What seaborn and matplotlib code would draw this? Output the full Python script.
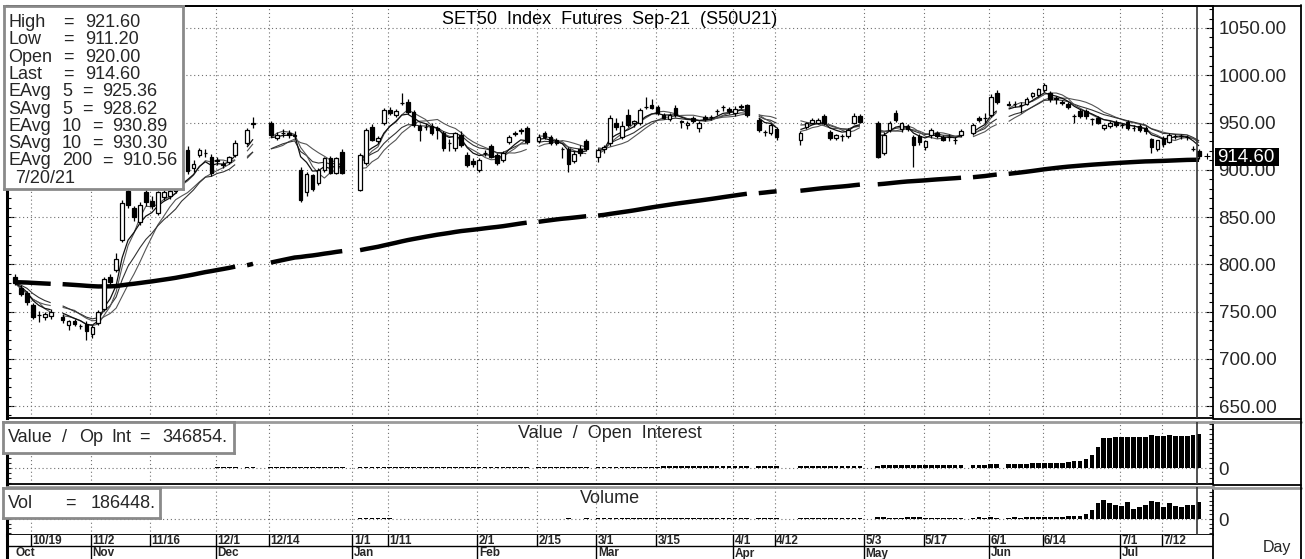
import numpy as np
import pandas as pd
import matplotlib
matplotlib.use("Agg")
import matplotlib.pyplot as plt
import seaborn as sns
from matplotlib.lines import Line2D
from matplotlib.patches import Rectangle
from matplotlib.ticker import MultipleLocator, FixedLocator, FuncFormatter

W, H = 1305, 559

# ---------------------------------------------------------
# Data (one value per trading day)
# ---------------------------------------------------------
first_day = "2020-10-14"
last_day = "2021-07-20"
holidays = ["2020-10-23", "2020-12-07", "2020-12-10", "2020-12-11", "2020-12-31",
            "2021-01-01", "2021-02-12", "2021-02-26", "2021-04-06", "2021-04-13",
            "2021-04-14", "2021-04-15", "2021-05-03", "2021-05-04", "2021-05-26",
            "2021-06-03"]

opens = [786, 775, 770, 757, 746, 744, 745, 744, 736, 740, 735, 737,  # Oct
         726, 738, 753, 786, 794, 826, 878, 860, 845, 876, 867, 854, 871, 872, 878, 888, 921, 902, 916, 918, 914,  # Nov
         909, 906, 908, 916, 928, 948, 950, 934, 939, 939, 936, 900, 876, 894, 886, 900, 912, 897, 919,  # Dec
         879, 907, 945, 930, 949, 963, 958, 971, 972, 961, 946, 945, 946, 944, 939, 928, 923, 937, 916, 909,  # Jan
         900, 918, 925, 916, 910, 929, 939, 942, 944, 930, 939, 935, 932, 922, 922, 909, 922, 930,  # Feb
         914, 922, 928, 949, 935, 958, 949, 949, 966, 968, 966, 958, 954, 965, 952, 947, 955, 944, 956, 956, 962, 966, 964,  # Mar
         960, 967, 968, 953, 940, 939, 943, 932, 945, 950, 950, 957, 940, 934, 936, 936, 950, 957,  # Apr
         950, 918, 942, 960, 943, 946, 935, 936, 924, 937, 939, 935, 935, 932, 937, 939, 955, 955,  # May
         958, 981, 970, 970, 968, 970, 978, 979, 984, 981, 976, 972, 970, 957, 962, 962, 954, 955, 944, 946, 951,  # Jun
         947, 951, 944, 946, 944, 933, 922, 934, 929, 936, 936, 935, 922, 920]  # Jul
highs = [790, 778, 772, 759, 751, 750, 753, 747, 741, 742, 737, 740,
         736, 752, 786, 790, 812, 868, 882, 862, 866, 880, 872, 878, 879, 880, 888, 906, 925, 910, 923, 922, 917,
         914, 909, 915, 931, 944, 956, 952, 940, 943, 942, 941, 903, 898, 896, 902, 914, 915, 914, 922,
         918, 944, 948, 936, 965, 966, 964, 981, 975, 963, 948, 950, 950, 946, 941, 933, 940, 941, 919, 912,
         912, 921, 927, 918, 920, 937, 941, 944, 946, 938, 941, 937, 934, 924, 924, 920, 926, 933,
         923, 926, 958, 955, 952, 964, 953, 965, 977, 975, 968, 960, 960, 968, 953, 952, 957, 952, 958, 958, 964, 968, 966,
         967, 970, 970, 955, 942, 949, 945, 941, 951, 955, 955, 959, 942, 938, 938, 944, 960, 959,
         952, 940, 952, 963, 951, 948, 937, 938, 932, 944, 941, 937, 938, 935, 943, 949, 957, 960,
         980, 984, 973, 973, 972, 977, 982, 987, 992, 983, 978, 974, 972, 959, 964, 964, 955, 957, 948, 952, 953,
         950, 953, 947, 948, 946, 934, 932, 936, 939, 938, 938, 937, 925, 921.6]
lows = [778, 766, 757, 742, 739, 741, 742, 738, 730, 735, 732, 720,
        722, 736, 751, 778, 792, 824, 860, 846, 842, 862, 858, 852, 868, 869, 875, 886, 896, 898, 913, 914, 893,
        905, 902, 906, 914, 926, 944, 935, 931, 935, 934, 933, 866, 872, 878, 884, 898, 895, 895, 895,
        877, 905, 930, 928, 947, 958, 956, 968, 959, 945, 930, 942, 937, 933, 920, 920, 920, 924, 903, 903,
        898, 915, 912, 905, 908, 927, 936, 938, 927, 928, 933, 926, 926, 912, 898, 907, 915, 920,
        908, 918, 925, 942, 933, 945, 945, 947, 964, 964, 958, 954, 952, 956, 944, 943, 950, 940, 952, 953, 958, 962, 959,
        957, 964, 956, 940, 936, 937, 932, 926, 943, 948, 948, 947, 932, 931, 930, 934, 948, 950,
        912, 916, 940, 951, 940, 941, 903, 926, 921, 934, 934, 930, 930, 927, 935, 937, 951, 950,
        956, 970, 967, 966, 960, 968, 976, 977, 982, 972, 970, 968, 964, 950, 955, 954, 947, 948, 942, 944, 945,
        944, 942, 941, 940, 938, 918, 920, 924, 928, 933, 933, 931, 920, 911.2]
closes = [780, 768, 760, 744, 746, 747, 749, 741, 740, 737, 735, 729,
          734, 749, 784, 781, 806, 865, 863, 850, 863, 866, 862, 876, 876, 877, 885, 904, 899, 906, 921, 918, 897,
          910, 905, 913, 928, 942, 949, 937, 937, 939, 937, 937, 868, 896, 880, 900, 912, 897, 912, 897,
          916, 942, 932, 934, 963, 960, 962, 971, 961, 947, 942, 945, 939, 942, 923, 928, 939, 926, 905, 906,
          910, 918, 914, 907, 918, 935, 938, 941, 929, 935, 935, 928, 928, 922, 906, 917, 918, 922,
          921, 924, 955, 945, 946, 947, 952, 963, 966, 965, 960, 955, 958, 958, 951, 949, 952, 950, 954, 956, 962, 966, 962,
          964, 966, 958, 942, 940, 947, 935, 939, 949, 953, 953, 949, 934, 937, 936, 942, 957, 951,
          914, 937, 950, 953, 949, 943, 926, 929, 930, 942, 936, 931, 935, 932, 941, 947, 953, 955,
          977, 972, 968, 970, 968, 975, 981, 985, 990, 975, 975, 971, 966, 957, 957, 957, 954, 950, 947, 950, 947,
          947, 944, 944, 942, 941, 924, 931, 926.9, 937, 936, 936, 934.5, 922, 914.6]

open_interest = [600, 700, 700, 800, 900, 900, 1000, 1100, 1100, 1200, 1300, 1300,
                 1400, 1500, 1700, 1800, 1900, 2100, 2200, 2200, 2400, 2500, 2600, 2600, 2800, 2900, 3000, 3100, 3300, 3400, 3500, 3600, 3800,
                 7200, 7400, 7500, 7700, 8000, 8100, 8300, 8500, 8600, 8800, 8900, 9400, 9600, 9700, 9800, 9900, 10100, 10200, 10300,
                 10400, 10500, 10700, 10800, 10900, 11000, 11000, 11200, 11300, 11300, 11400, 11500, 11600, 11600, 11700, 11800, 11900, 11900, 12000, 12100,
                 12200, 12300, 12300, 12400, 12500, 12600, 12600, 12700, 12800, 12900, 13000, 13000, 13100, 13200, 13300, 13300, 13400, 13500,
                 13600, 13800, 14000, 14100, 14300, 14500, 14600, 14700, 14900, 15000, 15200, 15400, 15500, 15700, 15800, 16000, 16200, 16400, 16600, 16800, 17200, 17600, 18000,
                 18400, 18800, 19200, 19500, 19800, 20000, 20300, 20700, 21000, 21400, 21700, 22000, 22300, 22600, 22900, 23300, 23700, 24000,
                 25000, 26000, 26500, 27000, 27800, 28200, 29000, 29500, 30000, 30600, 31000, 31500, 32000, 32400, 33000, 33600, 34000, 34500,
                 36000, 37000, 38500, 40000, 42000, 44000, 46000, 49000,
                 53900, 54500, 55200, 56000, 64000, 70700, 71200, 87600, 128000, 212000, 303000, 305000, 313000,
                 314000, 320000, 313000, 320000, 321000, 337000, 330000, 331000, 337000, 330000, 331000, 330000, 338000, 346854]
volume = [300, 500, 400, 600, 300, 200, 400, 500, 300, 300, 400, 600,
          700, 500, 900, 600, 400, 800, 700, 500, 600, 400, 500, 700, 600, 500, 800, 900, 1000, 700, 600, 500, 900,
          1100, 900, 800, 1200, 1000, 900, 1300, 1100, 800, 900, 1000, 1800, 1400, 1200, 900, 800, 1000, 1100, 1300,
          9500, 8800, 7200, 6800, 9200, 8500, 5500, 5800, 5200, 5000, 4900, 5100, 4800, 5300, 5000, 4900, 5200, 5100, 5500, 5400,
          5600, 5300, 5200, 5500, 5400, 5700, 5300, 5100, 5600, 5400, 5200, 5500, 5300, 5800, 6000, 5600, 5500, 5900,
          6200, 6000, 7500, 6800, 6500, 7200, 7000, 7600, 8000, 7400, 8500, 8200, 7800, 9000, 8600, 8400, 8800, 9200, 8700, 8500, 9400, 9800, 10500,
          11000, 10600, 11200, 12500, 10800, 11400, 12000, 10000, 10500, 11000, 11400, 10800, 12500, 11800, 12200, 12600, 14000, 13500,
          24000, 17000, 15000, 14500, 16000, 18000, 26000, 21000, 15000, 14000, 15500, 16000, 15000, 16500, 14000, 15000, 17000, 16000,
          19000, 16000, 15000, 17000, 16000, 18000, 17000, 19000,
          18000, 22000, 22000, 22000, 29000, 29000, 29000, 55000, 102000, 175000, 205000, 175000, 157000,
          146000, 183000, 110000, 132000, 157000, 201000, 183000, 132000, 175000, 146000, 132000, 157000, 157000, 186448]

ema200_seed = 781.0  # level of the 200-day average at the left edge

label_texts = ["10/19", "11/2", "11/16", "12/1", "12/14", "1/1", "1/11", "2/1", "2/15", "3/1",
               "3/15", "4/1", "4/12", "5/3", "5/17", "6/1", "6/14", "7/1", "7/12"]
label_dates = ["2020-10-19", "2020-11-02", "2020-11-16", "2020-12-01", "2020-12-14", "2021-01-01",
               "2021-01-11", "2021-02-01", "2021-02-15", "2021-03-01", "2021-03-15", "2021-04-01",
               "2021-04-12", "2021-05-03", "2021-05-17", "2021-06-01", "2021-06-14", "2021-07-01",
               "2021-07-12"]
month_texts = ["Nov", "Dec", "Jan", "Feb", "Mar", "Apr", "May", "Jun", "Jul"]
month_dates = ["2020-11-02", "2020-12-01", "2021-01-01", "2021-02-01", "2021-03-01", "2021-04-01",
               "2021-05-03", "2021-06-01", "2021-07-01"]
price_ticks = [650, 700, 750, 800, 850, 900, 950, 1000, 1050]

info_rows = [["High", "", "=", "921.60"], ["Low", "", "=", "911.20"], ["Open", "", "=", "920.00"],
             ["Last", "", "=", "914.60"], ["EAvg", "5", "=", "925.36"], ["SAvg", "5", "=", "928.62"],
             ["EAvg", "10", "=", "930.89"], ["SAvg", "10", "=", "930.30"], ["EAvg", "200", "=", "910.56"]]
info_date = "7/20/21"
last_value = 914.60
oi_last = "346854."
vol_last = "186448."

# ---------------------------------------------------------
# Frame the data on a weekday axis (holidays stay empty)
# ---------------------------------------------------------
weekdays = pd.bdate_range(first_day, last_day)
slot = pd.Series(np.arange(len(weekdays)), index=weekdays)
trade_days = weekdays[~weekdays.isin(pd.to_datetime(holidays))]

df = pd.DataFrame({"open": opens, "high": highs, "low": lows, "close": closes,
                   "oi": open_interest, "vol": volume}, index=trade_days)
df["pos"] = slot[trade_days].values
df["seg"] = (df["pos"].diff() > 1).cumsum()
c = df["close"]
df["ema5"] = c.ewm(span=5, adjust=False).mean()
df["sma5"] = c.rolling(5, min_periods=1).mean()
df["ema10"] = c.ewm(span=10, adjust=False).mean()
df["sma10"] = c.rolling(10, min_periods=1).mean()
df["ema200"] = pd.concat([pd.Series([ema200_seed]), c.reset_index(drop=True)]).ewm(
    span=200, adjust=False).mean().iloc[1:].values
df = df.reset_index(drop=True)

label_pos = [slot[pd.Timestamp(d)] - 0.3 for d in label_dates]
month_pos = [slot[pd.Timestamp(d)] - 0.3 for d in month_dates]
last_pos = df["pos"].iloc[-1] - 0.3

# ---------------------------------------------------------
# Figure
# ---------------------------------------------------------
sns.set_theme(style="white")
plt.rcParams["font.family"] = ["Liberation Sans", "DejaVu Sans"]
FS = 13


def fx(px):
    return px / W


def fy(py):
    return 1 - py / H


fig = plt.figure(figsize=(W / 100, H / 100), dpi=100)
x_lo, x_hi = (7 - 15) / 5.95, (1213 - 15) / 5.95

ax = fig.add_axes([fx(7), fy(418), fx(1213) - fx(7), fy(6) - fy(418)])
ax_oi = fig.add_axes([fx(7), fy(484), fx(1213) - fx(7), fy(422) - fy(484)])
ax_vol = fig.add_axes([fx(7), fy(535), fx(1213) - fx(7), fy(487) - fy(535)])
ax_date = fig.add_axes([fx(7), fy(559), fx(1213) - fx(7), fy(535) - fy(559)])

grid_kw = dict(color="#707070", lw=0.8, ls=(0, (1, 2.5)), zorder=1)

# main price panel
for p in price_ticks:
    ax.axhline(p, **grid_kw)
for p in label_pos:
    ax.axvline(p, **grid_kw)

for col, lw, colr in [("sma10", 0.8, "#555555"), ("ema10", 0.8, "#333333"),
                      ("sma5", 0.8, "#555555"), ("ema5", 0.9, "#111111"),
                      ("ema200", 3.2, "black")]:
    sns.lineplot(data=df, x="pos", y=col, units="seg", estimator=None, sort=False,
                 color=colr, linewidth=lw, legend=False, ax=ax, zorder=2,
                 solid_capstyle="butt")

up = df["close"] >= df["open"]
ax.vlines(df["pos"], df["low"], df["high"], color="black", lw=0.9, zorder=3)
ax.bar(df["pos"], (df["close"] - df["open"]).abs(), bottom=df[["open", "close"]].min(axis=1),
       width=0.62, color=np.where(up, "white", "black"), edgecolor="black", linewidth=0.9, zorder=4)
ax.axvline(last_pos, color="#333333", lw=1.2, zorder=5)
ax.plot([last_pos + 1.6], [last_value], marker="+", ms=4, mew=0.8, color="black", lw=0, zorder=5)

ax.set_xlim(x_lo, x_hi)
ax.set_ylim(650 - 12 / 0.945, 1050 + 22 / 0.945)
ax.yaxis.set_major_locator(FixedLocator(price_ticks))
ax.yaxis.set_minor_locator(MultipleLocator(10))
ax.yaxis.set_major_formatter(FuncFormatter(lambda v, _: f"{v:.2f}"))
ax.tick_params(axis="y", which="both", direction="in", left=True, right=True,
               labelleft=False, labelright=True, labelsize=13.5, pad=4, color="black")
ax.tick_params(axis="y", which="major", length=5, width=0.8)
ax.tick_params(axis="y", which="minor", length=3, width=0.8)
ax.tick_params(axis="x", which="both", bottom=False, labelbottom=False)
ax.set_xlabel("")
ax.set_ylabel("")
ax.text(0.5, 1 - (24 - 6) / 412, "SET50  Index  Futures  Sep-21  (S50U21)", transform=ax.transAxes,
        ha="center", va="baseline", fontsize=FS, color="black")

# value / open interest and volume panels
for a, col, lim, title, base in [(ax_oi, "oi", (-163000, 469000), "Value  /  Open  Interest", 438),
                                 (ax_vol, "vol", (-175000, 351000), "Volume", 503)]:
    a.axhline(0, **grid_kw)
    for p in label_pos:
        a.axvline(p, **grid_kw)
    sns.barplot(x=df["pos"], y=df[col], native_scale=True, color="black", saturation=1,
                width=0.8, linewidth=0, errorbar=None, ax=a, zorder=3)
    a.axvline(last_pos, color="#333333", lw=1.2, zorder=5)
    a.set_xlim(x_lo, x_hi)
    a.set_ylim(*lim)
    a.yaxis.set_major_locator(FixedLocator([0]))
    a.yaxis.set_minor_locator(MultipleLocator(50000))
    a.yaxis.set_major_formatter(FuncFormatter(lambda v, _: "0"))
    a.tick_params(axis="y", which="both", direction="in", left=True, right=True,
                  labelleft=False, labelright=True, labelsize=13.5, pad=4, length=3, width=0.8)
    a.tick_params(axis="x", which="both", bottom=False, labelbottom=False)
    a.set_xlabel("")
    a.set_ylabel("")
    top = 422 if a is ax_oi else 487
    bottom = 484 if a is ax_oi else 535
    a.text(0.5, (bottom - base) / (bottom - top), title, transform=a.transAxes,
           ha="center", va="baseline", fontsize=FS)
    a.spines["top"].set_color("#9a9a9a")
    a.spines["top"].set_linewidth(2)

for a in (ax, ax_oi, ax_vol, ax_date):
    for side in ("left", "right", "bottom"):
        a.spines[side].set_color("black")
        a.spines[side].set_linewidth(1.3)
    a.spines["left"].set_linewidth(2.2)
ax.spines["top"].set_color("black")
ax.spines["top"].set_linewidth(1.3)

# date strip
date_font = dict(fontsize=8.5, fontweight="bold", family="Liberation Sans", va="baseline", ha="left")
ax_date.set_xlim(x_lo, x_hi)
ax_date.set_ylim(559, 535)
ax_date.set_xticks([])
ax_date.set_yticks([])
ax_date.spines["top"].set_visible(False)
ax_date.spines["bottom"].set_visible(False)
ax_date.plot([x_lo, x_hi], [545.5, 545.5], color="black", lw=1.0)
for p, t in zip(label_pos, label_texts):
    ax_date.plot([p, p], [535, 545.5], color="black", lw=1.0)
    ax_date.text(p + 0.25, 543.8, t, **date_font)
for p, t in zip(month_pos, month_texts):
    ax_date.plot([p, p], [545.5, 559], color="black", lw=1.0)
    ax_date.text(p + 0.25, 556.5, t, **date_font)
ax_date.text(0.0, 556.5, "Oct", **date_font)

# outer frame pieces on the right label column
for (x0, x1, y, colr, lw) in [(4, 1301, 5.5, "black", 1.3), (1213, 1301, 419, "black", 1.3),
                              (1213, 1301, 421.5, "#9a9a9a", 2), (1213, 1301, 485, "black", 1.3),
                              (1213, 1301, 487.5, "#9a9a9a", 2)]:
    fig.add_artist(Line2D([fx(x0), fx(x1)], [fy(y), fy(y)], color=colr, lw=lw))
fig.add_artist(Line2D([fx(1300.5), fx(1300.5)], [fy(5), fy(559)], color="black", lw=1.3))
fig.text(fx(1263), fy(552), "Day", fontsize=11.5, va="baseline", ha="left")

# highlighted last price on the axis
fig.add_artist(Rectangle((fx(1215), fy(166)), fx(1279) - fx(1215), fy(148) - fy(166),
                         facecolor="black", edgecolor="none", zorder=10))
fig.text(fx(1217), fy(157.5), f"{last_value:.2f}", color="white", fontsize=13.5,
         va="center", ha="left", zorder=11)

# info box, top left (pixel coordinates)
ax_box = fig.add_axes([fx(4), fy(189), fx(183) - fx(4), fy(6) - fy(189)])
ax_box.set_zorder(6)
ax_box.set_xlim(4, 183)
ax_box.set_ylim(189, 6)
ax_box.set_xticks([])
ax_box.set_yticks([])
ax_box.set_facecolor("white")
for s in ax_box.spines.values():
    s.set_color("#8a8a8a")
    s.set_linewidth(2)
num_x = {"": 63, "5": 82, "10": 92, "200": 102}
for i, (lab, n, eq, val) in enumerate(info_rows):
    yb = 27 + i * 17.3
    ax_box.text(8, yb, lab, fontsize=FS, va="baseline")
    if n:
        ax_box.text(62, yb, n, fontsize=FS, va="baseline")
    ax_box.text(num_x[n], yb, eq, fontsize=FS, va="baseline")
    ax_box.text(num_x[n] + 20 if n else 85, yb, val, fontsize=FS, va="baseline")
ax_box.text(15, 27 + 9 * 17.3, info_date, fontsize=FS, va="baseline")

# value / open interest box
ax_ob = fig.add_axes([fx(3), fy(453), fx(234) - fx(3), fy(422) - fy(453)])
ax_ob.set_zorder(6)
ax_ob.set_xlim(3, 234)
ax_ob.set_ylim(453, 422)
ax_ob.set_xticks([])
ax_ob.set_yticks([])
for s in ax_ob.spines.values():
    s.set_color("#8a8a8a")
    s.set_linewidth(2)
for t, xp in [("Value", 8), ("/", 62), ("Op", 79), ("Int", 111), ("=", 139), (oi_last, 162)]:
    ax_ob.text(xp, 442, t, fontsize=FS, va="baseline")

# volume box
ax_vb = fig.add_axes([fx(3), fy(518), fx(160) - fx(3), fy(488) - fy(518)])
ax_vb.set_zorder(6)
ax_vb.set_xlim(3, 160)
ax_vb.set_ylim(518, 488)
ax_vb.set_xticks([])
ax_vb.set_yticks([])
for s in ax_vb.spines.values():
    s.set_color("#8a8a8a")
    s.set_linewidth(2)
for t, xp in [("Vol", 8), ("=", 65), (vol_last, 91)]:
    ax_vb.text(xp, 508, t, fontsize=FS, va="baseline")

fig.savefig("out.png", dpi=100, facecolor="white")
